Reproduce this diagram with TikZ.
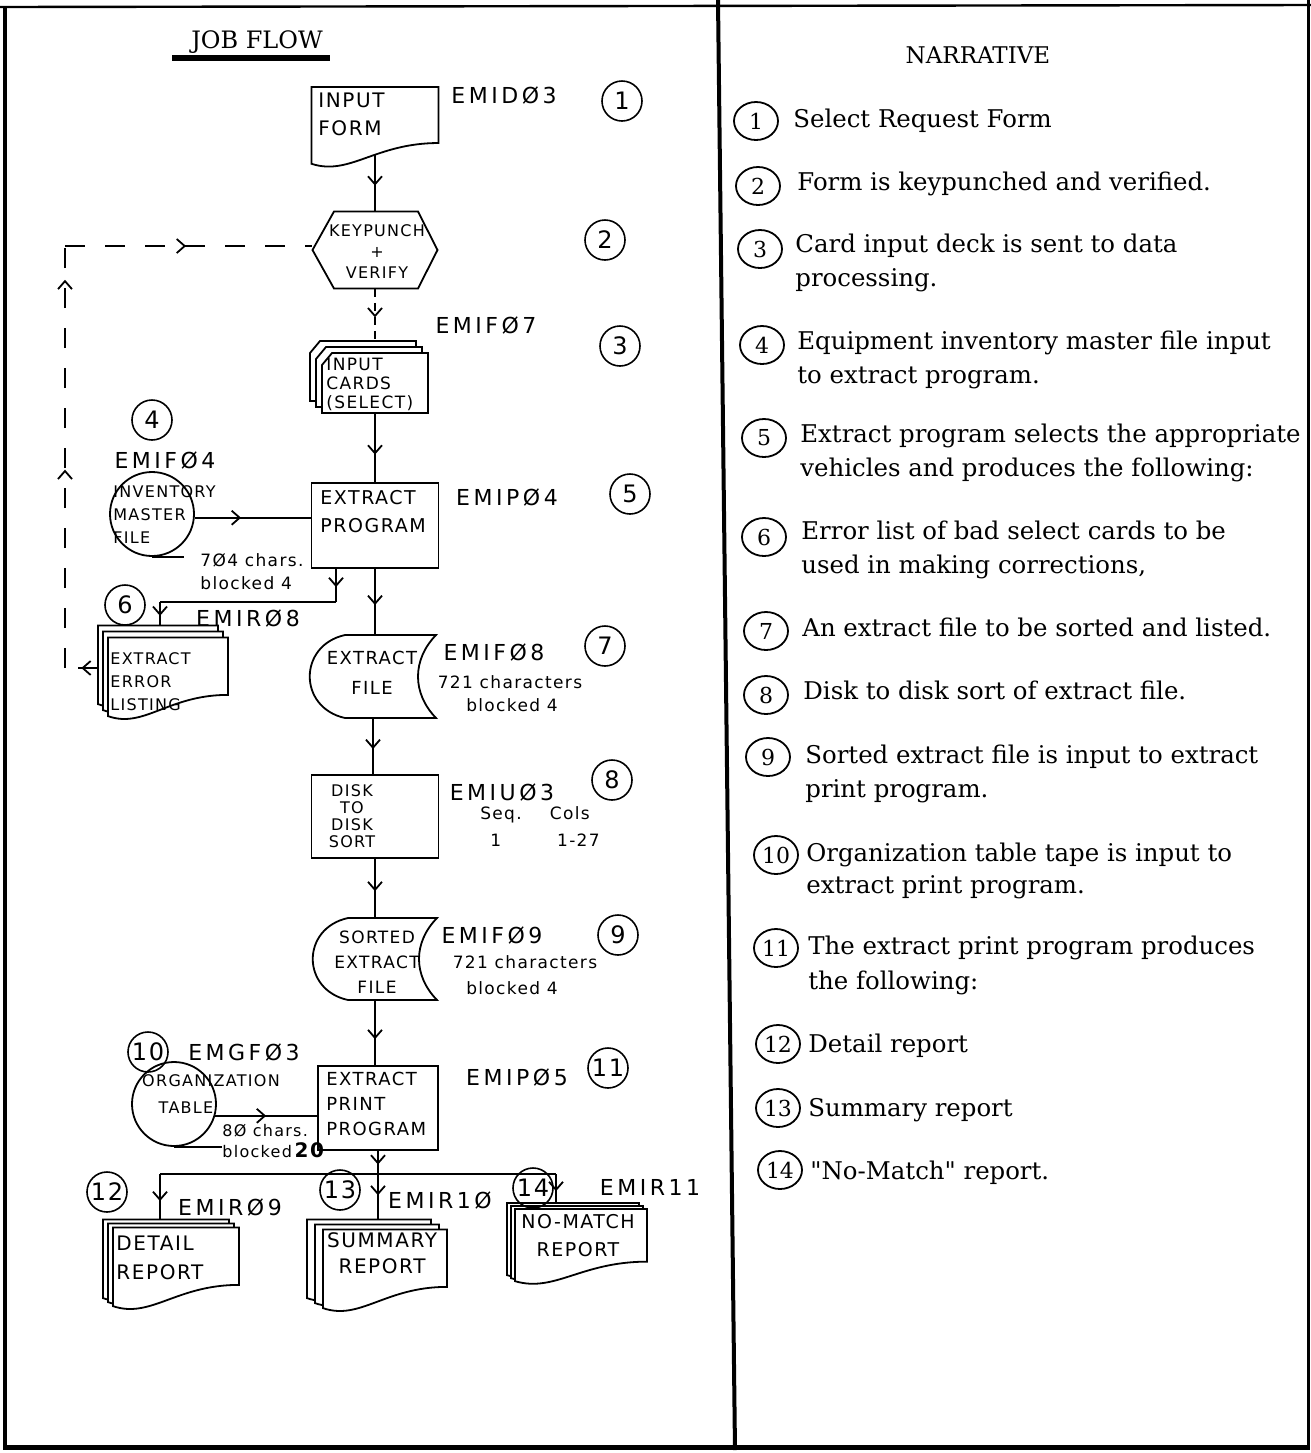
\documentclass[tikz,border=0pt]{standalone}
\usepackage{fontspec}
\setmainfont{DejaVu Serif}
\newfontfamily\hand{DejaVu Sans}[LetterSpace=8]
\newfontfamily\handw{DejaVu Sans}[LetterSpace=16]
\usetikzlibrary{calc,arrows.meta,decorations.markings,shapes.geometric}
\tikzset{
  ln/.style={line width=0.9pt},
  tipmark/.style={postaction={decorate},decoration={markings,mark=at position #1 with {\arrow{Straight Barb[length=4pt,width=7pt]}}}},
  twotips/.style 2 args={postaction={decorate},decoration={markings,
     mark=at position #1 with {\arrow{Straight Barb[length=4pt,width=7pt]}},
     mark=at position #2 with {\arrow{Straight Barb[length=4pt,width=7pt]}}}},
  shp/.style={draw=none,inner sep=0pt,rectangle},
  boxn/.style={rectangle,draw,ln,inner sep=0pt},
  fb/.style={ln,dash pattern=on 10pt off 10pt},
  num/.style={circle,draw,line width=0.8pt,minimum size=20pt,inner sep=0pt,font=\hand\fontsize{12}{12}\selectfont},
  rnum/.style={ellipse,draw,line width=0.9pt,minimum width=22pt,minimum height=19pt,inner sep=0pt,font=\fontsize{11}{11}\selectfont},
  lbl/.style={inner sep=0pt,font=\handw\fontsize{11}{13}\selectfont},
  sml/.style={inner sep=0pt,font=\hand\fontsize{8.5}{12.5}\selectfont,align=left},
  btxt/.style={inner sep=0pt,align=left},
  narr/.style={anchor=base west,inner sep=0pt,font=\fontsize{12.2}{14}\selectfont},
}
\newcommand\docout[3]{\draw[ln,fill=white,shift={(#1.center)}] (-#2,-#3) -- (#2,-#3) -- (#2,0.35*#3) .. controls (0,0.35*#3) and (-0.4*#2,1.15*#3) .. (-#2,0.85*#3) -- cycle;}
\newcommand\mdoc[7]{%
  \node[shp,minimum width=#4pt,minimum height=#5pt] (#1c) at ({#2-2*#6},{#3-2*#7}) {};
  \docout{#1c}{#4}{#5}
  \node[shp,minimum width=#4pt,minimum height=#5pt] (#1b) at ({#2-#6},{#3-#7}) {};
  \docout{#1b}{#4}{#5}
  \node[shp,minimum width=#4pt,minimum height=#5pt] (#1) at (#2,#3) {};
  \docout{#1}{#4}{#5}}
\newcommand\cardout[3]{\draw[ln,fill=white,shift={(#1.center)}] (-#2,-#3+12) -- (-#2+10,-#3) -- (#2,-#3) -- (#2,#3) -- (-#2,#3) -- cycle;}
\newcommand\sdout[3]{\draw[ln,shift={(#1.center)}] (-#2+35,-#3) -- (#2,-#3) .. controls (#2-24,-0.4*#3) and (#2-24,0.4*#3) .. (#2,#3) -- (-#2+35,#3) .. controls (-#2-12,0.75*#3) and (-#2-12,-0.75*#3) .. (-#2+35,-#3) -- cycle;}
\begin{document}
\begin{tikzpicture}[x=0.5pt,y=-0.5pt]
\useasboundingbox (0,0) rectangle (1311,1453);
% frame
\draw[line width=1.2pt] (0,7) -- (1311,5);
\draw[line width=2pt] (5,7) -- (5,1450);
\draw[line width=1.5pt] (1308,0) -- (1308,1450);
\draw[line width=2.5pt] (3,1447) -- (1309,1447);
\draw[line width=2pt] (718,0) -- (735,1450);
% titles
\node[inner sep=0pt,font=\fontsize{12}{12}\selectfont] (title) at (257,42) {JOB FLOW};
\draw[line width=2.8pt] (172,58) -- (330,58);
\node[inner sep=0pt,font=\fontsize{11.5}{12}\selectfont] (ntitle) at (978,55) {NARRATIVE};

% 1 input form
\node[shp,minimum width=63.5pt,minimum height=41.5pt] (form) at (375,128.5) {};
\docout{form}{63.5}{41.5}
\coordinate (formb) at ($(form.center)+(0,26)$);
\node[btxt,anchor=north west,font=\hand\fontsize{10}{14}\selectfont] (formt) at (318,93) {INPUT\\FORM};
\node[lbl] (l1) at (504,95) {EMIDØ3};
\node[num] (n1) at (622,101) {1};

% 2 keypunch
\node[shp,minimum width=62.5pt,minimum height=38.5pt] (kp) at (375,250) {};
\draw[ln,shift={(kp.center)}] (-62.5,0) -- (-41,-38.5) -- (43,-38.5) -- (62.5,0) -- (43,38.5) -- (-41,38.5) -- cycle;
\node[btxt,align=center,font=\hand\fontsize{8}{10.5}\selectfont] (kpt) at (377,252) {KEYPUNCH\\+\\VERIFY};
\node[num] (n2) at (605,240) {2};

% 3 cards
\node[shp,minimum width=53pt,minimum height=30pt] (cardsc) at (363,371) {};
\cardout{cardsc}{53}{30}
\node[shp,minimum width=53pt,minimum height=30pt] (cardsb) at (369,377) {};
\cardout{cardsb}{53}{30}
\node[shp,minimum width=53pt,minimum height=30pt] (cards) at (375,383) {};
\cardout{cards}{53}{30}
\node[btxt,anchor=north west,font=\hand\fontsize{8.5}{9.5}\selectfont] (cardst) at (326,358) {INPUT\\CARDS\\(SELECT)};
\node[lbl] (l3) at (486,325) {EMIFØ7};
\node[num] (n3) at (620,346) {3};

% 4 inventory master file
\node[num] (n4) at (152,420) {4};
\node[lbl] (l4) at (165,460) {EMIFØ4};
\node[circle,draw,ln,minimum size=42pt,inner sep=0pt] (imf) at (152,514) {};
\draw[ln] (imf.south) -- ++(32,0);
\node[btxt,anchor=north west,font=\hand\fontsize{8}{11.5}\selectfont] (imft) at (113,485) {INVENTORY\\MASTER\\FILE};
\node[sml,anchor=north west,font=\hand\fontsize{8.5}{11.5}\selectfont] (imfc) at (200,553) {7Ø4 chars.\\blocked 4};

% 5 extract program
\node[boxn,minimum width=63.5pt,minimum height=42.5pt] (ep) at (375,525.5) {};
\node[btxt,anchor=north west,font=\hand\fontsize{9.5}{14}\selectfont] (ept) at (320,490) {EXTRACT\\PROGRAM};
\node[lbl] (l5) at (507,497) {EMIPØ4};
\node[num] (n5) at (630,494) {5};

% 6 error listing
\mdoc{errl}{168}{680}{60}{42.5}{5}{6}
\node[btxt,anchor=north west,font=\hand\fontsize{8}{11.5}\selectfont] (errlt) at (110,652) {EXTRACT\\ERROR\\LISTING};
\node[num] (n6) at (125,605) {6};
\node[lbl] (l6) at (248,618) {EMIRØ8};

% 7 extract file
\node[shp,minimum width=63pt,minimum height=41.5pt] (ef) at (373,676.5) {};
\sdout{ef}{63}{41.5}
\node[btxt,align=center,font=\hand\fontsize{9}{15}\selectfont] (eft) at (372,673) {EXTRACT\\FILE};
\node[lbl] (l7a) at (494,652) {EMIFØ8};
\node[sml] (l7b) at (510,682) {721 characters};
\node[sml] (l7c) at (512,705) {blocked 4};
\node[num] (n7) at (605,646) {7};

% 8 disk sort
\node[boxn,minimum width=63.5pt,minimum height=41.5pt] (ds) at (375,816.5) {};
\node[btxt,align=center,font=\hand\fontsize{8}{8.5}\selectfont] (dst) at (352,816) {DISK\\TO\\DISK\\SORT};
\node[lbl] (l8a) at (502,792) {EMIUØ3};
\node[sml] (l8b) at (535,815) {Seq.\hspace{14pt}Cols};
\node[sml] (l8c) at (545,840) {1\hspace{28pt}1-27};
\node[num] (n8) at (612,780) {8};

% 9 sorted extract file
\node[shp,minimum width=62pt,minimum height=41pt] (sf) at (375,959) {};
\sdout{sf}{62}{41}
\node[btxt,align=center,font=\hand\fontsize{8.5}{12.5}\selectfont] (sft) at (377,962) {SORTED\\EXTRACT\\FILE};
\node[lbl] (l9a) at (492,935) {EMIFØ9};
\node[sml] (l9b) at (525,962) {721 characters};
\node[sml] (l9c) at (512,988) {blocked 4};
\node[num] (n9) at (618,935) {9};

% 10 organization table
\node[num] (n10) at (148,1052) {10};
\node[lbl] (l10) at (244,1052) {EMGFØ3};
\node[circle,draw,ln,minimum size=42pt,inner sep=0pt] (ot) at (174,1104) {};
\draw[ln] (ot.south) -- ++(48,0);
\node[btxt,font=\hand\fontsize{8}{8}\selectfont] (ott1) at (211,1081) {ORGANIZATION};
\node[btxt,font=\hand\fontsize{8}{8}\selectfont] (ott2) at (186,1108) {TABLE};
\node[sml,anchor=north west,font=\hand\fontsize{8}{10.5}\selectfont] (otc) at (222,1124) {8Ø chars.\\blocked\,\textbf{\fontsize{10}{10.5}\selectfont 20}};

% 11 extract print program
\node[boxn,minimum width=60pt,minimum height=42pt] (epp) at (378,1108) {};
\node[btxt,anchor=north west,font=\hand\fontsize{9}{12.5}\selectfont] (eppt) at (326,1072) {EXTRACT\\PRINT\\PROGRAM};
\node[lbl] (l11) at (517,1077) {EMIPØ5};
\node[num] (n11) at (608,1068) {11};

% 12-14 reports
\mdoc{det}{176}{1270}{63}{42.5}{5}{4}
\node[btxt,anchor=north west,font=\hand\fontsize{10}{14.5}\selectfont] (dett) at (116,1236) {DETAIL\\REPORT};
\mdoc{summ}{385}{1272}{62}{42.5}{8}{5}
\node[btxt,align=center,font=\hand\fontsize{10}{13}\selectfont] (summt) at (382,1253) {SUMMARY\\REPORT};
\mdoc{nm}{581}{1248}{66}{39}{4}{3}
\node[btxt,align=center,font=\hand\fontsize{9.5}{14}\selectfont] (nmt) at (578,1236) {NO-MATCH\\REPORT};
\node[num] (n12) at (107,1192) {12};
\node[lbl] (l12) at (230,1207) {EMIRØ9};
\node[num] (n13) at (340,1190) {13};
\node[lbl] (l13) at (440,1200) {EMIR1Ø};
\node[num] (n14) at (533,1188) {14};
\node[lbl] (l14) at (650,1187) {EMIR11};

% connectors
\draw[ln,tipmark=0.55] (formb) -- (kp.north);
\draw[ln,dash pattern=on 4pt off 3pt,tipmark=0.55] (kp.south) -- (kp.south |- cardsc.north);
\draw[ln,tipmark=0.6] (cards.south) -- (cards.south |- ep.north);
\draw[ln,tipmark=0.4] (imf.-5) -- (imf.-5 -| ep.west);
\coordinate (eb1) at (336,602);
\coordinate (eb2) at (160,602);
\draw[ln,tipmark=0.55] (ep.south -| eb1) -- (eb1);
\draw[ln] (eb1) -- (eb2);
\draw[ln,tipmark=0.6] (eb2) -- (eb2 |- errlc.north);
\draw[ln,tipmark=0.55] (ep.south) -- (ep.south |- ef.north);
\draw[ln,tipmark=0.55] (ef.south) -- (ef.south |- ds.north);
\draw[ln,tipmark=0.55] (ds.south) -- (ds.south |- sf.north);
\draw[ln,tipmark=0.6] (sf.south) -- (sf.south |- epp.north);
\draw[ln,tipmark=0.5] (ot.-16) -- (ot.-16 -| epp.west);
\coordinate (barL) at (160,1174);
\coordinate (barR) at (556,1174);
\draw[ln,twotips={0.2}{0.65}] (epp.south) -- (epp.south |- summc.north);
\draw[ln] (barL) -- (barR);
\draw[ln,tipmark=0.6] (barL) -- (barL |- detc.north);
\draw[ln,tipmark=0.6] (barR) -- (barR |- nmc.north);
% feedback dashed loop
\coordinate (fbT) at (65,246);
\draw[fb,tipmark=0.5] (errlc.west) -- (errlc.west -| fbT);
\draw[fb,twotips={0.47}{0.92}] (errlc.west -| fbT) -- (fbT);
\draw[fb,tipmark=0.49] (fbT) -- (fbT -| kp.west);

% narrative
\node[rnum] (r1) at (756,121) {1};
\node[narr] (t1) at (793,127) {Select Request Form};
\node[rnum] (r2) at (758,186) {2};
\node[narr] (t2) at (797,190) {Form is keypunched and verified.};
\node[rnum] (r3) at (760,249) {3};
\node[narr] (t3a) at (795,252) {Card input deck is sent to data};
\node[narr] (t3b) at (795,286) {processing.};
\node[rnum] (r4) at (762,345) {4};
\node[narr] (t4a) at (797,349) {Equipment inventory master file input};
\node[narr] (t4b) at (797,383) {to extract program.};
\node[rnum] (r5) at (764,438) {5};
\node[narr] (t5a) at (800,442) {Extract program selects the appropriate};
\node[narr] (t5b) at (800,476) {vehicles and produces the following:};
\node[rnum] (r6) at (764,537) {6};
\node[narr] (t6a) at (801,539) {Error list of bad select cards to be};
\node[narr] (t6b) at (801,573) {used in making corrections,};
\node[rnum] (r7) at (766,631) {7};
\node[narr] (t7) at (802,636) {An extract file to be sorted and listed.};
\node[rnum] (r8) at (766,695) {8};
\node[narr] (t8) at (803,699) {Disk to disk sort of extract file.};
\node[rnum] (r9) at (768,757) {9};
\node[narr] (t9a) at (805,763) {Sorted extract file is input to extract};
\node[narr] (t9b) at (805,797) {print program.};
\node[rnum] (r10) at (776,855) {10};
\node[narr] (t10a) at (806,861) {Organization table tape is input to};
\node[narr] (t10b) at (806,893) {extract print program.};
\node[rnum] (r11) at (776,948) {11};
\node[narr] (t11a) at (808,954) {The extract print program produces};
\node[narr] (t11b) at (808,989) {the following:};
\node[rnum] (r12) at (778,1044) {12};
\node[narr] (t12) at (808,1052) {Detail report};
\node[rnum] (r13) at (778,1108) {13};
\node[narr] (t13) at (808,1116) {Summary report};
\node[rnum] (r14) at (780,1170) {14};
\node[narr] (t14) at (810,1179) {\textquotedbl No-Match\textquotedbl{} report.};
\end{tikzpicture}
\end{document}
